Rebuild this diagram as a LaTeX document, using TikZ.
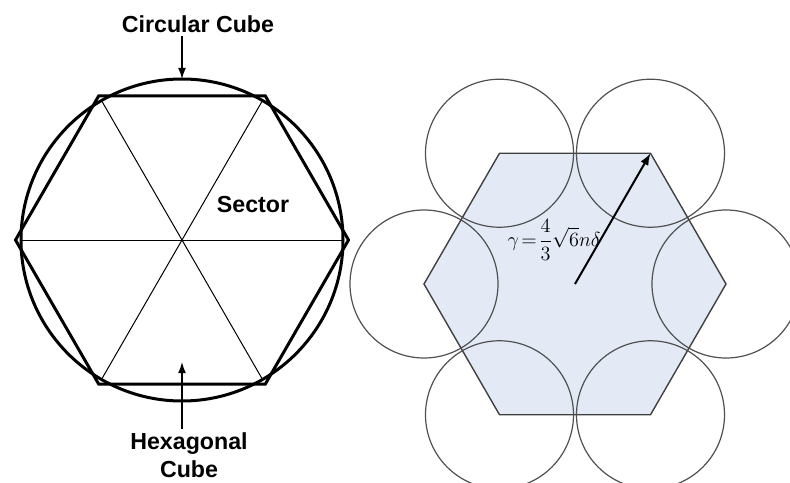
\documentclass[tikz,border=0pt]{standalone}
\usepackage{fontspec}
\setsansfont{Liberation Sans}
\usetikzlibrary{arrows.meta}

\definecolor{hexfill}{RGB}{227,234,245}
\definecolor{hexline}{RGB}{64,64,64}
\definecolor{ballline}{RGB}{80,80,80}

\tikzset{
  lbl/.style={font=\sffamily\bfseries\fontsize{16.5}{20}\selectfont, inner sep=2pt},
  ptr/.style={line width=0.35mm, -{Latex[length=2.8mm,width=2mm]}},
  cubeline/.style={line width=0.75mm},
  ball/.style={draw=ballline, line width=0.3mm},
}

\begin{document}
\begin{tikzpicture}[x=0.25mm, y=0.25mm]
  % page is 790 x 482 units, one unit per pixel
  \useasboundingbox (0,0) rectangle (790,482);
  \clip (0,0) rectangle (790,482);
  % left: circular cube with its hexagon, r = 161 / 166.5
  \begin{scope}[shift={(182,242)}]
    \foreach \a in {0,60,120}
      \draw[line width=0.25mm] (\a:161) -- (\a+180:161);
    \draw[cubeline] (0,0) circle[radius=161];
    \draw[cubeline] (0:166.5) \foreach \a in {60,120,...,300} {-- (\a:166.5)} -- cycle;
    \coordinate (ctop) at (0,161);
    \coordinate (hbot) at (0,-122);
    \node[lbl] (circ) at (16,215.5) {Circular Cube};
    \node[lbl] (sector) at (71,35) {Sector};
    \node[lbl, align=center] (hexlbl) at (7,-215) {Hexagonal\\Cube};
    \draw[ptr] (circ.south -| ctop) -- (ctop);
    \draw[ptr] (hexlbl.north -| hbot) -- (hbot);
  \end{scope}
  % right: hexagon of side 151, a ball on each corner
  \begin{scope}[shift={(575,198)}]
    \filldraw[fill=hexfill, draw=hexline, line width=0.35mm]
      (0:151) \foreach \a in {60,120,...,300} {-- (\a:151)} -- cycle;
    \foreach \a in {0,60,...,300} {
      \coordinate (v\a) at (\a:151);
      \draw[ball] (v\a) circle[radius=74];
    }
    \coordinate (hc) at (0,0);
    \draw[line width=0.5mm, -{Latex[length=3mm,width=2.2mm]}] (hc) -- (v60);
    \node[font=\fontsize{14}{17}\selectfont, inner sep=0pt] (rad) at (-21,44)
      {$\gamma\!=\!\displaystyle\frac{4}{3}\sqrt{6}n\delta$};
  \end{scope}
\end{tikzpicture}
\end{document}
